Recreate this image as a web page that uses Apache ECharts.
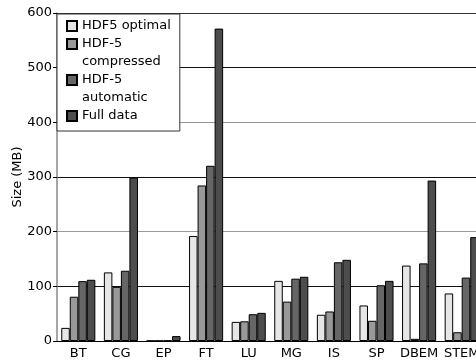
<!DOCTYPE html>
<html>
<head>
<meta charset="utf-8">
<script src="https://cdn.jsdelivr.net/npm/echarts@6/dist/echarts.min.js"></script>
<style>html,body{margin:0;padding:0;background:#fff}#c{width:476px;height:364px}</style>
</head>
<body>
<div id="c"></div>
<script>
var categories = ['BT','CG','EP','FT','LU','MG','IS','SP','DBEM','STEM'];
var seriesNames = ['HDF5 optimal','HDF-5 compressed','HDF-5 automatic','Full data'];
var legendText = ['HDF5 optimal','\nHDF-5\ncompressed','\nHDF-5\nautomatic','\nFull data\n'];
var hdf5Optimal    = [24, 125.5, 0.5, 192, 35, 110, 48, 65, 138, 87];
var hdf5Compressed = [81, 99, 0.5, 284.5, 36, 72, 54, 37, 4, 16];
var hdf5Automatic  = [109.5, 128.5, 1, 320.5, 49, 114, 144, 102, 142, 116];
var fullData       = [112, 299, 9, 571.5, 51.5, 117.5, 148.5, 110, 293.5, 190];
var yTicks = [0,100,200,300,400,500,600];
var colors = ['#e6e6e6','#999999','#666666','#4d4d4d'];

var values = [hdf5Optimal, hdf5Compressed, hdf5Automatic, fullData];
var font = 'DejaVu Sans';
var chart = echarts.init(document.getElementById('c'), null, {renderer:'canvas'});
chart.setOption({
  animation: false,
  textStyle: {fontFamily: font},
  grid: {left: 57, right: -7, top: 13, bottom: 23, containLabel: false, outerBoundsMode: 'none'},
  legend: {
    orient: 'vertical', left: 57, top: 14,
    padding: [3, 9, -12, 9],
    itemGap: -18, itemWidth: 10, itemHeight: 10,
    icon: 'rect',
    backgroundColor: '#fff', borderColor: '#333', borderWidth: 1,
    textStyle: {fontFamily: font, fontSize: 13, lineHeight: 18, color: '#000'},
    data: seriesNames,
    formatter: function (name) { return legendText[seriesNames.indexOf(name)]; },
    z: 10
  },
  xAxis: {
    type: 'category', data: categories,
    axisLine: {lineStyle: {color: '#000', width: 1}},
    axisTick: {alignWithLabel: true, length: 3, lineStyle: {color: '#000'}},
    axisLabel: {fontFamily: font, fontSize: 13, color: '#000', margin: 6, interval: 0},
    splitLine: {show: false}
  },
  yAxis: {
    type: 'value', min: 0, max: 600, interval: 100,
    name: 'Size (MB)', nameLocation: 'middle', nameGap: 33, nameMoveOverlap: false,
    nameTextStyle: {fontFamily: font, fontSize: 13, color: '#000'},
    axisLine: {show: true, lineStyle: {color: '#888', width: 1.5}},
    axisTick: {show: true, length: 4, lineStyle: {color: '#000'}},
    axisLabel: {fontFamily: font, fontSize: 13, color: '#000', margin: 5,
      formatter: function (v) { return yTicks.indexOf(v) >= 0 ? String(v) : ''; }},
    splitLine: {show: true, lineStyle: {color: ['#000','#111','#999','#111','#999','#111','#333'], width: 1}}
  },
  series: seriesNames.map(function (n, i) {
    return {
      name: n, type: 'bar', data: values[i],
      barGap: '0%', barCategoryGap: '20%',
      itemStyle: {color: colors[i], borderColor: '#000', borderWidth: 1}
    };
  })
});
</script>
</body>
</html>
